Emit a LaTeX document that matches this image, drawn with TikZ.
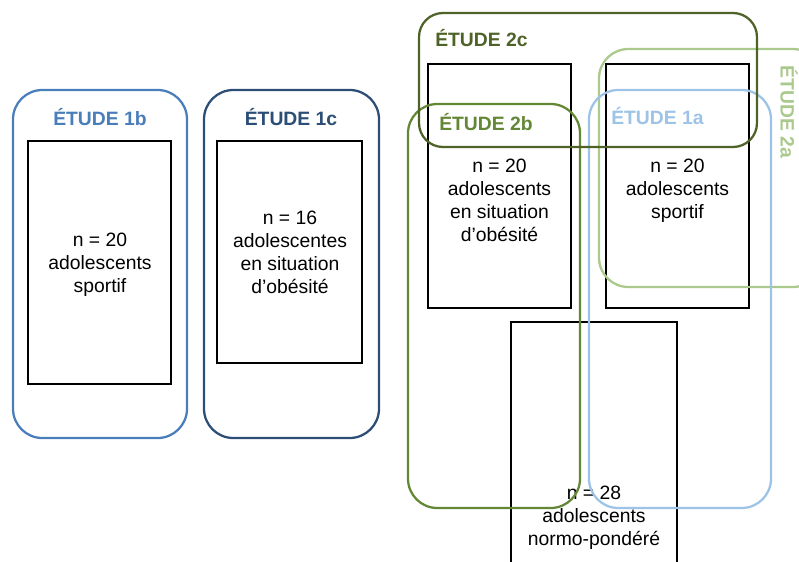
\documentclass[tikz,border=0pt]{standalone}
\usepackage{fontspec}
\setmainfont{Liberation Sans}
\definecolor{cA}{RGB}{74,126,187}
\definecolor{cB}{RGB}{44,77,117}
\definecolor{cC}{RGB}{79,98,40}
\definecolor{cD}{RGB}{99,135,52}
\definecolor{cE}{RGB}{157,195,230}
\definecolor{cF}{RGB}{170,201,140}
\begin{document}
\begin{tikzpicture}[x=0.75pt,y=-0.75pt,
  inner/.style={draw=black,line width=0.9pt},
  study/.style={line width=1.7pt,rounded corners=22pt},
  lbl/.style={font=\fontsize{14.5}{17.25}\selectfont\bfseries,inner sep=0pt},
  txt/.style={font=\fontsize{14.5}{17.25}\selectfont,align=center,inner sep=0pt,anchor=north}]
\useasboundingbox (0,0) rectangle (799,561);
\clip (0,0) rectangle (799,561);
% inner population boxes
\draw[inner] (28,141) rectangle (171,384);
\draw[inner] (217,141) rectangle (362,363);
\draw[inner] (428,64) rectangle (571,308);
\draw[inner] (606,64) rectangle (749,308);
\draw[inner] (511,322) rectangle (677,580);
% texts
\node[txt] (t1b) at (100,233) {n = 20\\adolescents\\sportif};
\node[txt] (t1c) at (290,211) {n = 16\\adolescentes\\en situation\\d’obésité};
\node[txt] (tob) at (499.5,159) {n = 20\\adolescents\\en situation\\d’obésité};
\node[txt] (tsp) at (677.5,159) {n = 20\\adolescents\\sportif};
\node[txt] (tnp) at (594,486) {n = 28\\adolescents\\normo-pondéré};
% study frames
\draw[study,draw=cA] (13,90) rectangle (187,438);
\draw[study,draw=cB] (204,90) rectangle (379,438);
\draw[study,draw=cF] (599,49) rectangle (822,287);
\draw[study,draw=cE] (589,90) rectangle (771,508);
\draw[study,draw=cD] (408,104) rectangle (580,508);
\draw[study,draw=cC,rounded corners=18pt] (419,13) rectangle (757,147);
% study labels
\node[lbl,text=cA,anchor=base] (l1b) at (100,125) {ÉTUDE 1b};
\node[lbl,text=cB,anchor=base] (l1c) at (291,125) {ÉTUDE 1c};
\node[lbl,text=cC,anchor=base west] (l2c) at (435,46) {ÉTUDE 2c};
\node[lbl,text=cD,anchor=base west] (l2b) at (439,130) {ÉTUDE 2b};
\node[lbl,text=cE,anchor=base west] (l1a) at (611,124) {ÉTUDE 1a};
\node[lbl,text=cF,rotate=-90] (l2a) at (789,112) {ÉTUDE 2a};
\end{tikzpicture}
\end{document}
